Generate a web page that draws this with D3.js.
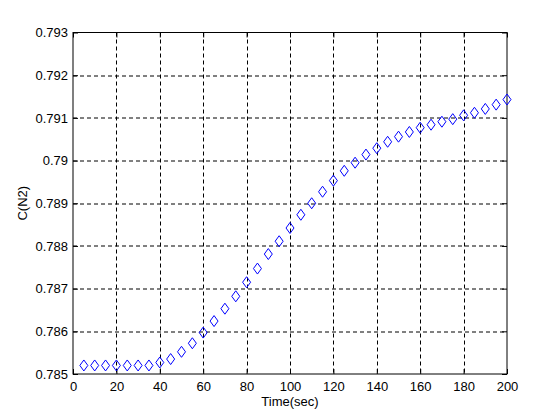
<!DOCTYPE html>
<html>
<head>
<meta charset="utf-8">
<script src="https://cdn.jsdelivr.net/npm/d3@7"></script>
<style>
  body { margin: 0; background: #fff; }
  svg { display: block; font-family: Arial, "Liberation Sans", sans-serif; }
</style>
</head>
<body>
<div id="chart"></div>
<script>
// data
const timeSec = [5, 10, 15, 20, 25, 30, 35, 40, 45, 50,
    55, 60, 65, 70, 75, 80, 85, 90, 95, 100,
    105, 110, 115, 120, 125, 130, 135, 140, 145, 150,
    155, 160, 165, 170, 175, 180, 185, 190, 195, 200];
const cN2 = [0.78520, 0.78520, 0.78520, 0.78520, 0.78520, 0.78520, 0.78520, 0.78527, 0.78535, 0.78552,
    0.78572, 0.78597, 0.78624, 0.78653, 0.78682, 0.78715, 0.78747, 0.78781, 0.78811, 0.78842,
    0.78873, 0.78900, 0.78927, 0.78953, 0.78976, 0.78995, 0.79014, 0.79029, 0.79044, 0.79056,
    0.79067, 0.79077, 0.79084, 0.79091, 0.79097, 0.79106, 0.79112, 0.79121, 0.79131, 0.79143];
const xTicks = [0, 20, 40, 60, 80, 100, 120, 140, 160, 180, 200];
const yTicks = [0.785, 0.786, 0.787, 0.788, 0.789, 0.790, 0.791, 0.792, 0.793];

const width = 560, height = 420;
const margin = { top: 32.5, right: 53, bottom: 46, left: 73 };
const plotW = width - margin.left - margin.right,
    plotH = height - margin.top - margin.bottom;

const svg = d3.select('#chart')
    .append('svg')
    .attr('width', width)
    .attr('height', height);

const g = svg.append('g')
    .attr('transform', `translate(${margin.left},${margin.top})`);

const x = d3.scaleLinear().domain([0, 200]).range([0, plotW]);
const y = d3.scaleLinear().domain([0.785, 0.793]).range([plotH, 0]);

// dashed grid
g.append('g').selectAll('line')
    .data(xTicks.slice(1, -1))
    .enter().append('line')
    .attr('x1', d => Math.round(x(d)) + 0.5).attr('x2', d => Math.round(x(d)) + 0.5)
    .attr('y1', 0).attr('y2', plotH)
    .style('stroke', '#000').style('stroke-dasharray', '4,3');

g.append('g').selectAll('line')
    .data(yTicks.slice(1, -1))
    .enter().append('line')
    .attr('y1', d => Math.round(y(d)) + 0.5).attr('y2', d => Math.round(y(d)) + 0.5)
    .attr('x1', 0).attr('x2', plotW)
    .style('stroke', '#000').style('stroke-dasharray', '4,3');

const fmt = d => String(+d.toFixed(3));

// axes, ticks pointing inward
const xAxis = g.append('g')
    .attr('transform', `translate(0,${plotH})`)
    .call(d3.axisBottom(x).tickValues(xTicks).tickSizeInner(-5).tickSizeOuter(0).tickPadding(8));
const xTop = g.append('g')
    .call(d3.axisTop(x).tickValues(xTicks).tickSizeInner(-5).tickSizeOuter(0).tickFormat(''));
const yAxis = g.append('g')
    .call(d3.axisLeft(y).tickValues(yTicks).tickSizeInner(-5).tickSizeOuter(0).tickPadding(5).tickFormat(fmt));
const yRight = g.append('g')
    .attr('transform', `translate(${plotW},0)`)
    .call(d3.axisRight(y).tickValues(yTicks).tickSizeInner(-5).tickSizeOuter(0).tickFormat(''));

[xAxis, xTop, yAxis, yRight].forEach(a => {
    a.select('.domain').remove();
    a.selectAll('line').style('stroke', '#000');
    a.selectAll('text').attr('font-size', '13px').attr('font-family', 'Arial, "Liberation Sans", sans-serif').attr('fill', '#000');
});

// box
g.append('rect')
    .attr('x', 0).attr('y', 0)
    .attr('width', plotW).attr('height', plotH)
    .style('fill', 'none').style('stroke', '#000');

// diamond markers
g.append('g').selectAll('path')
    .data(timeSec.map((t, i) => [t, cN2[i]]))
    .enter().append('path')
    .attr('transform', d => `translate(${x(d[0])},${y(d[1])})`)
    .attr('d', 'M0,-5.5L4,0L0,5.5L-4,0Z')
    .style('fill', 'none').style('stroke', '#0000ff').style('stroke-width', 1);

// labels
svg.append('text')
    .attr('x', margin.left + plotW / 2).attr('y', 406)
    .attr('text-anchor', 'middle')
    .attr('font-size', '13px')
    .text('Time(sec)');

svg.append('text')
    .attr('transform', `translate(27,${margin.top + plotH / 2}) rotate(-90)`)
    .attr('text-anchor', 'middle')
    .attr('font-size', '13px')
    .text('C(N2)');
</script>
</body>
</html>
